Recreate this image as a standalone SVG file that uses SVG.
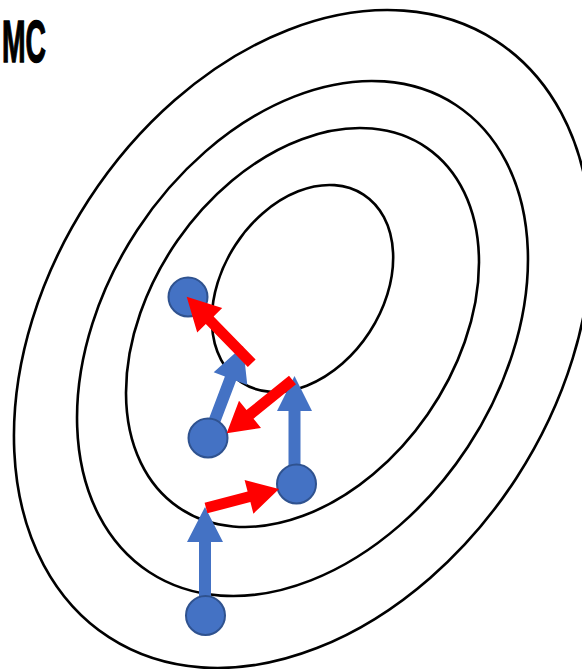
<svg xmlns="http://www.w3.org/2000/svg" width="582" height="669" viewBox="0 0 582 669">
<style>
.contour{fill:none;stroke:#000;stroke-width:2.6}
.pt{fill:#4472C4;stroke:#2F528F;stroke-width:2}
.blue{fill:#4472C4}
.red{fill:#FF0000}
.title{font-family:"Liberation Sans",Arial,sans-serif;font-weight:bold;font-size:60px;fill:#000;stroke:#000;stroke-width:1.5}
</style>
<rect width="582" height="669" fill="#fff"/>
<text class="title" x="2" y="62" textLength="44" lengthAdjust="spacingAndGlyphs">MC</text>
<g id="contours">
<ellipse id="c4" class="contour" cx="302.5" cy="288.5" rx="112" ry="80" transform="rotate(-57 302.5 288.5)"/>
<ellipse id="c3" class="contour" cx="302.5" cy="327.5" rx="218.5" ry="152.3" transform="rotate(-55.3 302.5 327.5)"/>
<ellipse id="c2" class="contour" cx="302.5" cy="338.5" rx="279.4" ry="197.7" transform="rotate(-56.7 302.5 338.5)"/>
<ellipse id="c1" class="contour" cx="302.5" cy="339" rx="355.5" ry="255.1" transform="rotate(-57 302.5 339)"/>
</g>
<g id="connectors">
<polygon id="a1" class="blue" points="199,598 199,542 187,542 205,507 223,542 211,542 211,598"/>
<polygon id="a2" class="blue" points="288.5,470 288.5,411 277,411 294.5,376 312,411 300.5,411 300.5,470"/>
<polygon id="a3" class="blue" points="202.4,435.9 224.9,376.6 213.7,372.3 243,346 247.3,385.1 236.1,380.8 213.6,440.1"/>
</g>
<g id="p1"><circle class="pt" cx="205.5" cy="615.5" r="19.5"/></g>
<g id="p2"><circle class="pt" cx="296.5" cy="484" r="19.5"/></g>
<g id="p3"><circle class="pt" cx="208" cy="438" r="19.5"/></g>
<g id="p4"><circle class="pt" cx="188" cy="297" r="19.5"/></g>
<g id="connectors-red">
<polygon id="r1" class="red" points="204.6,502.7 247.6,491.5 244.6,479.9 279,489 253.4,513.7 250.4,502.1 207.4,513.3"/>
<polygon id="r2" class="red" points="289,375.7 246.5,410.1 239,400.8 226.7,433.3 261,428 253.5,418.7 296,384.3"/>
<polygon id="r3" class="red" points="247.8,367.1 205.8,324.1 197.2,332.5 186.7,296.7 222.2,308.1 213.6,316.5 255.6,359.5"/>
</g>
</svg>
